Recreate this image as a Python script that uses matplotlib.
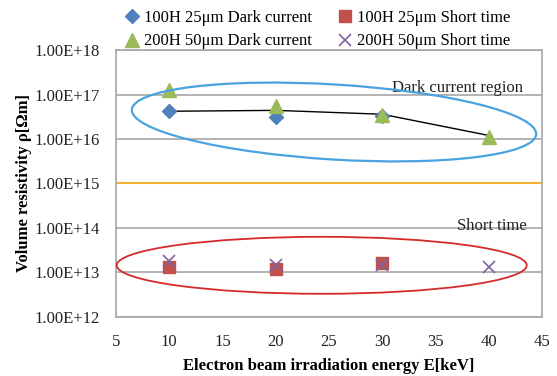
import numpy as np
import matplotlib
matplotlib.use("Agg")
import matplotlib.pyplot as plt
from matplotlib.patches import Ellipse

plt.rcParams['font.family'] = ['Liberation Serif', 'DejaVu Serif']

# data
energy = [10, 20, 30, 40]
dark_100h = [4.2e16, 3.2e16, 3.3e16]
dark_200h = [1.24e17, 5.4e16, 3.4e16, 1.1e16]
short_100h = [1.3e13, 1.2e13, 1.6e13]
short_200h = [1.8e13, 1.5e13, 1.5e13, 1.3e13]
trend = [4.2e16, 4.4e16, 3.6e16, 1.2e16]
threshold = 1e15

yticks = [1e12, 1e13, 1e14, 1e15, 1e16, 1e17, 1e18]
ylabels = ["1.00E+12", "1.00E+13", "1.00E+14", "1.00E+15",
           "1.00E+16", "1.00E+17", "1.00E+18"]

fig = plt.figure(figsize=(5.57, 3.76), dpi=100)
ax = fig.add_axes([0.2083, 0.157, 0.7648, 0.710])

ax.set_yscale('log')
ax.set_ylim(1e12, 1e18)
ax.set_xlim(5, 45)
ax.set_yticks(yticks)
ax.set_yticklabels(ylabels)
ax.minorticks_off()
ax.set_xticks(range(5, 50, 5))
ax.tick_params(length=0, labelsize=12, colors='#222222')
ax.tick_params(axis='y', pad=11.5)
ax.tick_params(axis='x', pad=12)
ax.grid(axis='y', color='#a6a6a6', lw=1.2)
ax.set_axisbelow(True)
for s in ax.spines.values():
    s.set_color('#a6a6a6')
    s.set_linewidth(1.2)

ax.axhline(threshold, color='#f0b030', lw=1.5, zorder=2)
ax.plot(energy, trend, color='black', lw=1, zorder=3)

h1, = ax.plot(energy[:3], dark_100h, 'D', color='#4f81bd', ms=7, ls='none', zorder=4)
h2, = ax.plot(energy, dark_200h, '^', color='#9bbb59', ms=10, ls='none', zorder=5)
h3, = ax.plot(energy[:3], short_100h, 's', color='#c0504d', ms=9, ls='none', zorder=4)
h4, = ax.plot(energy, short_200h, 'x', color='#8064a2', ms=9, mew=1.2, ls='none', zorder=5)

# hand drawn region ellipses (in inches on the figure)
e1 = Ellipse((3.34, 2.54), 4.05, 0.75, angle=-3.5, fill=False,
             ec='#4aa3df', lw=1.6, transform=fig.dpi_scale_trans, clip_on=False)
e2 = Ellipse((3.217, 1.107), 4.10, 0.57, fill=False,
             ec='#d42a2a', lw=1.3, transform=fig.dpi_scale_trans, clip_on=False)
fig.add_artist(e1)
fig.add_artist(e2)

ax.text(0.955, 0.858, "Dark current region", transform=ax.transAxes,
        ha='right', va='center', fontsize=12, color='#222222')
ax.text(0.965, 0.340, "Short time", transform=ax.transAxes,
        ha='right', va='center', fontsize=12, color='#222222')

ax.set_xlabel("Electron beam irradiation energy E[keV]", fontsize=12,
              fontweight='bold', labelpad=6)
ax.set_ylabel("Volume resistivity ρ[Ωm]", fontsize=12, fontweight='bold',
              labelpad=2)

fig.legend([h1, h2, h3, h4],
           ["100H 25μm Dark current", "200H 50μm Dark current",
            "100H 25μm Short time", "200H 50μm Short time"],
           ncol=2, loc='upper left', bbox_to_anchor=(0.207, 1.0),
           frameon=False, fontsize=12, handlelength=0.8, handletextpad=0.3,
           columnspacing=1.6, labelspacing=0.45, borderaxespad=0.2)

fig.savefig("out.png", dpi=100)
